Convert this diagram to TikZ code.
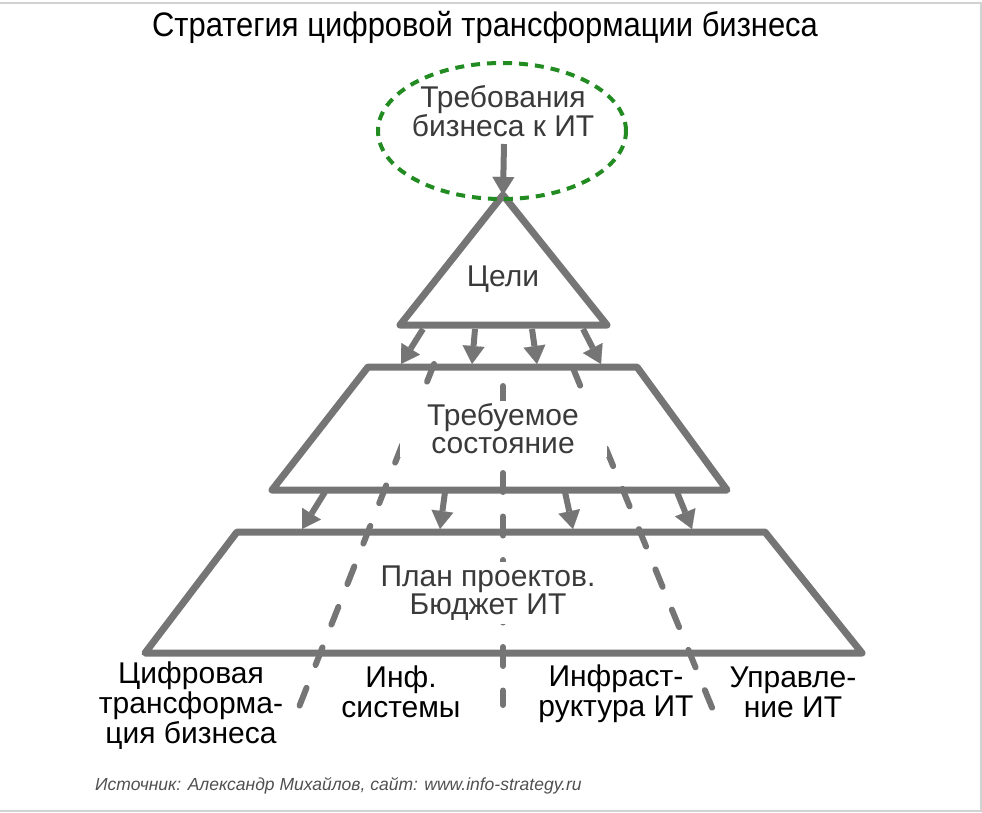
\documentclass[tikz,border=0pt]{standalone}
\usepackage{fontspec}
\setmainfont{Liberation Sans}
\newfontfamily\narrowsans[FakeStretch=0.91]{Liberation Sans}
\usetikzlibrary{shapes.geometric,arrows.meta}
\definecolor{pyrgray}{RGB}{117,117,117}
\definecolor{ringgreen}{RGB}{34,139,34}
\definecolor{textgray}{RGB}{58,58,58}
\definecolor{srcgray}{RGB}{80,80,80}

\begin{document}
\begin{tikzpicture}[x=1pt,y=-1pt,
  layer/.style={draw=pyrgray,line width=7pt,line join=round},
  flow/.style={draw=pyrgray,line width=6pt,-{Triangle[length=18pt,width=22pt,line width=0.1pt]}},
  track/.style={draw=pyrgray,line width=6pt,line cap=round,dash pattern=on 19pt off 24.5pt},
  inlabel/.style={text=textgray,font=\fontsize{30}{28}\selectfont,align=center},
  baselabel/.style={text=black,font=\fontsize{30}{30}\selectfont,align=center}]
\useasboundingbox (0,0) rectangle (982,812);
\draw[gray!35,line width=1.5pt] (0,3) -- (981,3) -- (981,811) -- (0,811);
\node[font=\narrowsans\fontsize{34}{34}\selectfont,anchor=base] (title) at (485,36) {Стратегия цифровой трансформации бизнеса};

\coordinate (trackAtop) at (434,364); \coordinate (trackAend) at (299,707);
\coordinate (trackBtop) at (503,386); \coordinate (trackBend) at (503,705);
\coordinate (trackCtop) at (573,368); \coordinate (trackCend) at (713,710);
\draw[track] (trackAtop) -- (trackAend); \draw[track] (trackBtop) -- (trackBend); \draw[track] (trackCtop) -- (trackCend);

\coordinate (apex) at (503,195); \coordinate (triR) at (607,325); \coordinate (triL) at (400,325);
\draw[layer] (apex) -- (triR) -- (triL) -- cycle;
\draw[layer] (368,367) -- (637,367) -- (727,490) -- (272,490) -- cycle;
\draw[layer] (237,532) -- (765,532) -- (862,653) -- (145,653) -- cycle;

\foreach \sx/\ex [count=\i] in {423/401,475/472,532/537,583/601} {\coordinate (goalout\i) at (\sx,329); \coordinate (statein\i) at (\ex,364);}
\foreach \sx/\ex [count=\i] in {325/302,445/440,565/573,677/692} {\coordinate (stateout\i) at (\sx,492); \coordinate (planin\i) at (\ex,529);}

\node[ellipse,draw=ringgreen,line width=4pt,dash pattern=on 9pt off 7pt,minimum width=248pt,minimum height=136pt] (ring) at (502,131) {};
\node[inlabel] (req) at (503,111) {Требования\\бизнеса к ИТ};
\coordinate (reqfoot) at (504,144);
\node[inlabel] (goals) at (503,279) {Цели};
\node[inlabel,fill=white,minimum width=207pt,minimum height=52pt] (state) at (503,429) {Требуемое\\состояние};
\node[inlabel,fill=white,minimum width=200pt,minimum height=62pt] (plan) at (488,593) {План проектов.\\Бюджет ИТ};

\draw[flow] (reqfoot) -- (apex); \draw[flow] (goalout1) -- (statein1); \draw[flow] (goalout2) -- (statein2); \draw[flow] (goalout3) -- (statein3); \draw[flow] (goalout4) -- (statein4); \draw[flow] (stateout1) -- (planin1); \draw[flow] (stateout2) -- (planin2); \draw[flow] (stateout3) -- (planin3); \draw[flow] (stateout4) -- (planin4);

\node[baselabel] (digital) at (191,706) {Цифровая\\трансформа-\\ция бизнеса};
\node[baselabel] (infosys) at (401,692) {Инф.\\системы};
\node[baselabel] (infra) at (616,694) {Инфраст-\\руктура ИТ};
\node[baselabel] (itmgmt) at (793,692) {Управле-\\ние ИТ};
\node[font=\itshape\fontsize{17.5}{17.5}\selectfont,text=srcgray,anchor=base west,inner sep=0pt] (source) at (95,790) {Источник: Александр Михайлов, сайт: www.info-strategy.ru};
\end{tikzpicture}
\end{document}
